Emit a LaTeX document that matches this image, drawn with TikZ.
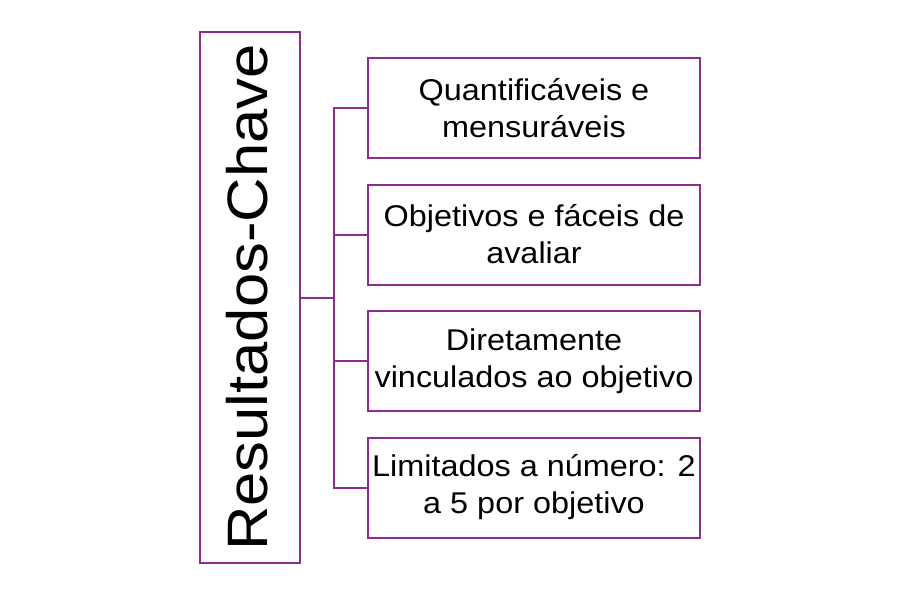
\documentclass[tikz,border=0pt]{standalone}
\usepackage{fontspec}
\setmainfont{Liberation Sans}[FakeStretch=1.08]
\definecolor{pur}{HTML}{8E2B8E}
\begin{document}
\begin{tikzpicture}[x=1pt,y=-1pt,
  box/.style={draw=pur,line width=2pt,minimum width=332pt,minimum height=100pt,align=center,font=\fontsize{30}{37}\selectfont,inner sep=0pt},
  conn/.style={draw=pur,line width=2pt}]
\useasboundingbox (0,0) rectangle (900,597);
\node[draw=pur,line width=2pt,minimum width=100pt,minimum height=531pt,inner sep=0pt] (main) at (250,297.5) {};
\node[rotate=90,anchor=base,font=\fontsize{57}{57}\selectfont] (mt) at (267,297.5) {Resultados-Chave};
\node[box] (b1) at (534,108) {Quantificáveis e\\mensuráveis};
\node[box] (b2) at (534,234.5) {Objetivos e fáceis de\\avaliar};
\node[box] (b3) at (534,361) {Diretamente\\vinculados ao objetivo};
\node[box] (b4) at (534,487.5) {Limitados a número: 2\\a 5 por objetivo};
\coordinate (j) at (334,298);
\draw[conn] (main.east |- j) -- (j);
\draw[conn] (b1.west) -| (j) |- (b4.west);
\draw[conn] (b2.west) -- (b2.west -| j);
\draw[conn] (b3.west) -- (b3.west -| j);
\end{tikzpicture}
\end{document}
